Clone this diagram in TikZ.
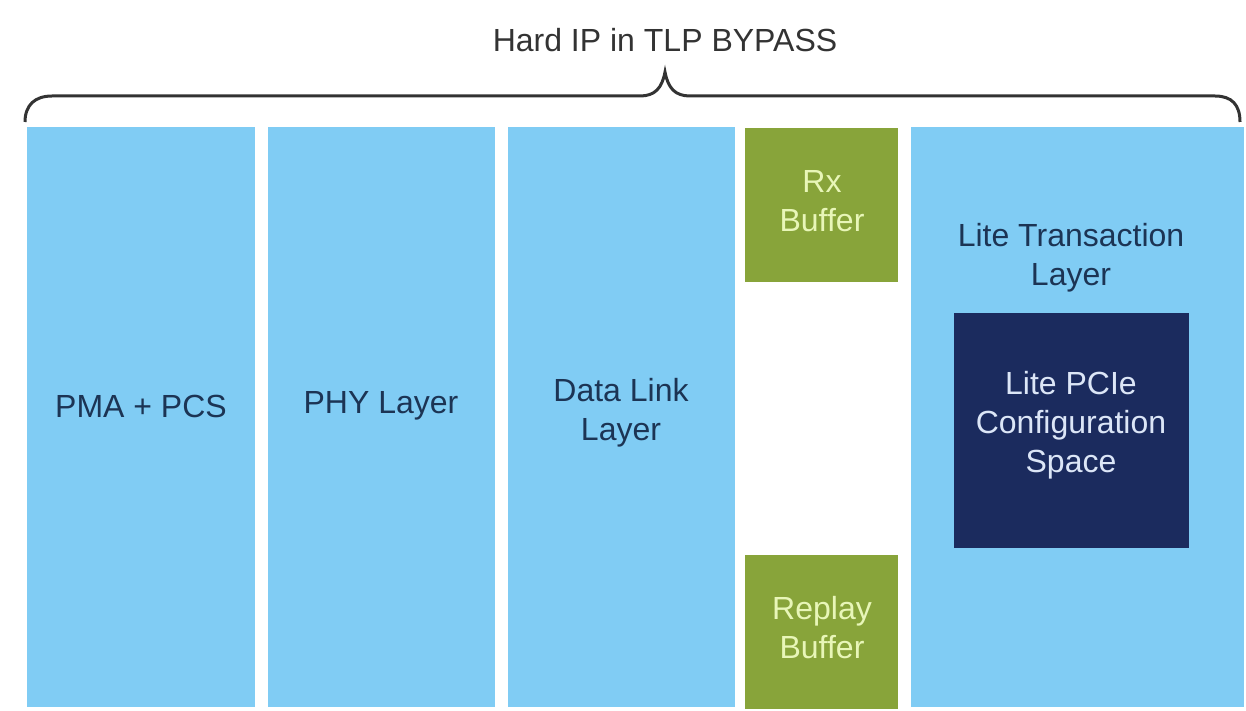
\documentclass[tikz,border=0pt]{standalone}
\usepackage{fontspec}
\setmainfont{Liberation Sans}
\definecolor{layerblue}{RGB}{128,204,244}
\definecolor{layertext}{RGB}{28,52,84}
\definecolor{bufgreen}{RGB}{136,164,58}
\definecolor{buftext}{RGB}{232,246,184}
\definecolor{cfgnavy}{RGB}{27,43,94}
\definecolor{cfgtext}{RGB}{220,230,247}
\definecolor{bracegray}{RGB}{51,51,51}
\begin{document}
\begin{tikzpicture}[x=0.5pt,y=-0.5pt]
  \tikzstyle{layer}=[fill=layerblue,inner sep=0pt,anchor=north west,minimum height=290pt];
  \tikzstyle{buf}=[fill=bufgreen,inner sep=0pt,anchor=north west,minimum width=76.5pt,minimum height=77pt];
  \tikzstyle{txt}=[align=center,font=\fontsize{16}{19.5}\selectfont,text=layertext];
  \useasboundingbox (0,0) rectangle (1246,711);

  % blocks
  \path (27,127)  node[layer,minimum width=114pt] (pma) {};
  \path (268,127) node[layer,minimum width=113.5pt] (phy) {};
  \path (508,127) node[layer,minimum width=113.5pt] (dll) {};
  \path (911,127) node[layer,minimum width=166.5pt] (tl) {};
  \path (745,128) node[buf] (rxbuf) {};
  \path (745,555) node[buf] (replay) {};
  \path (954,313) node[fill=cfgnavy,inner sep=0pt,anchor=north west,minimum width=117.5pt,minimum height=117.5pt] (cfg) {};

  % labels
  \path (665,40)   node[txt,text=bracegray] (title) {Hard IP in TLP BYPASS};
  \path (141,406)  node[txt] (pmatxt) {PMA + PCS};
  \path (381,406)  node[txt] (phytxt) {PHY Layer};
  \path (621,413)  node[txt] (dlltxt) {Data Link\\Layer};
  \path (822,201)  node[txt,text=buftext] (rxtxt) {Rx\\Buffer};
  \path (822,628)  node[txt,text=buftext] (replaytxt) {Replay\\Buffer};
  \path (1071,258) node[txt] (tltxt) {Lite Transaction\\Layer};
  \path (1071,425) node[txt,text=cfgtext] (cfgtxt) {Lite PCIe\\Configuration\\Space};

  % brace
  \draw[line width=1.5pt,bracegray] (25,122) .. controls (25,105) and (35,96) .. (52,96) -- (640,96)
    .. controls (655,96) and (662,88) .. (665,72) .. controls (668,88) and (675,96) .. (690,96)
    -- (1215,96) .. controls (1232,96) and (1240,105) .. (1240,122);
\end{tikzpicture}
\end{document}
